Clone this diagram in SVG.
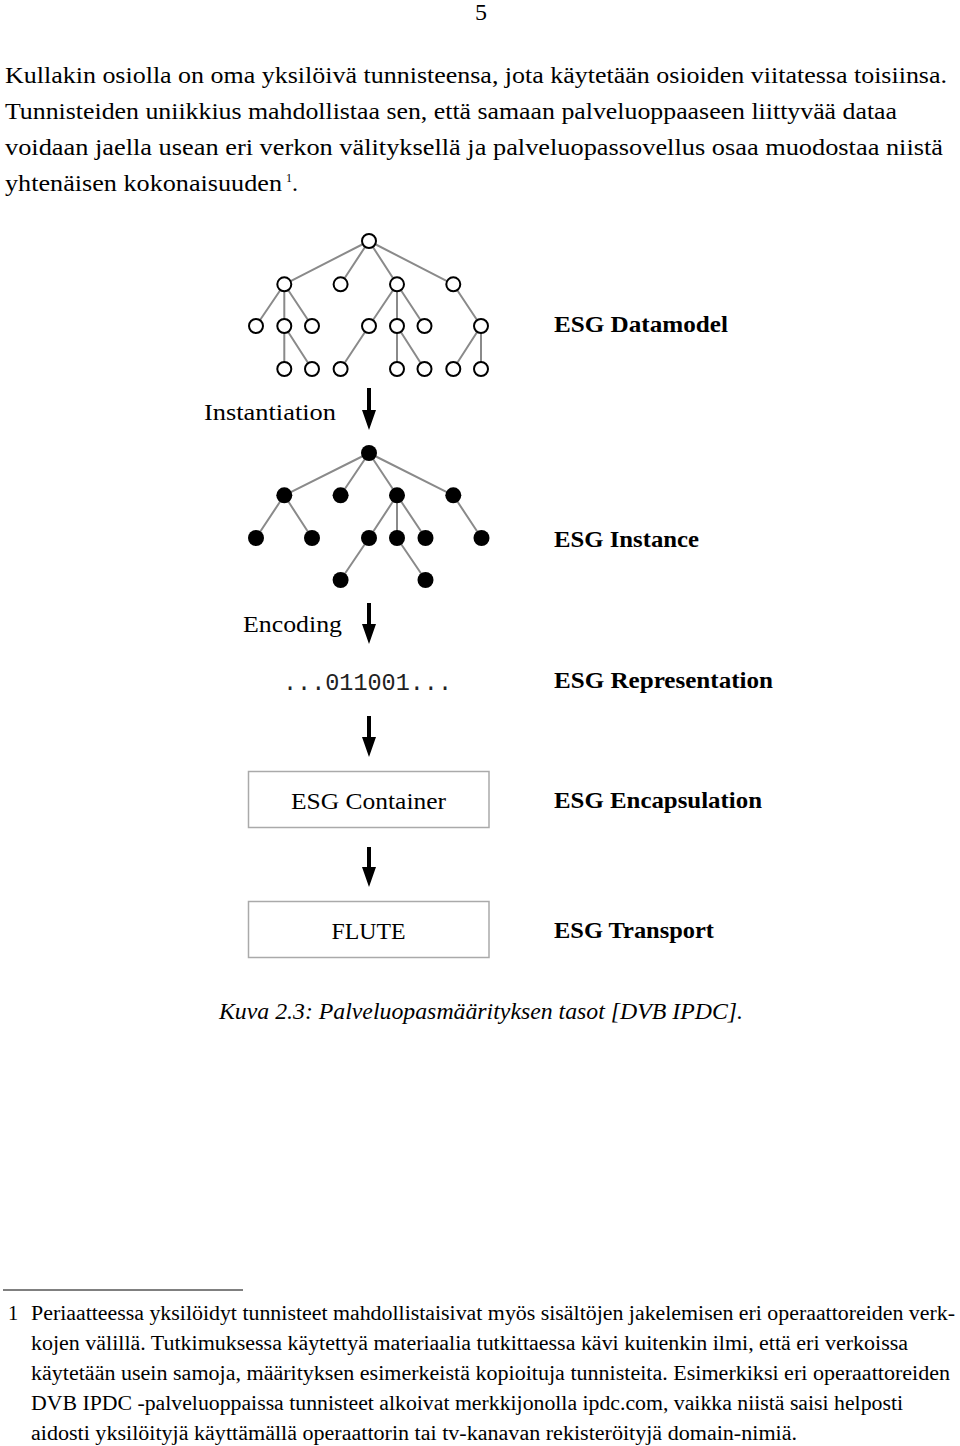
<svg xmlns="http://www.w3.org/2000/svg" width="960" height="1446" viewBox="0 0 960 1446">
<style>
.t{font-family:"Liberation Serif","DejaVu Serif",serif;font-size:24px;fill:#000}
.b{font-weight:bold;font-size:23px}
.fn{font-family:"Liberation Serif","DejaVu Serif",serif;font-size:20.5px;fill:#000}
.e{stroke:#8a8a8a;stroke-width:2;fill:none}
.o{fill:#fff;stroke:#000;stroke-width:2}
.f{fill:#000}
.box{fill:#fff;stroke:#aaa;stroke-width:1.5}
.arr{fill:#000}
</style>
<rect width="960" height="1446" fill="#fff"/>
<text class="t" x="481" y="20" text-anchor="middle">5</text>
<g id="body">
<text class="t" x="5" y="83" textLength="942" lengthAdjust="spacingAndGlyphs">Kullakin osiolla on oma yksilöivä tunnisteensa, jota käytetään osioiden viitatessa toisiinsa.</text>
<text class="t" x="5" y="119" textLength="892" lengthAdjust="spacingAndGlyphs">Tunnisteiden uniikkius mahdollistaa sen, että samaan palveluoppaaseen liittyvää dataa</text>
<text class="t" x="5" y="155" textLength="938" lengthAdjust="spacingAndGlyphs">voidaan jaella usean eri verkon välityksellä ja palveluopassovellus osaa muodostaa niistä</text>
<text class="t" x="5" y="191" textLength="277" lengthAdjust="spacingAndGlyphs">yhtenäisen kokonaisuuden</text>
<text class="t" x="286" y="182" style="font-size:12px">1</text>
<text class="t" x="292" y="191">.</text>
</g>
<g id="connectors">
<path class="e" d="M369,241L284.3,284.3M369,241L340.6,284.3M369,241L397,284.3M369,241L453.3,284.3
M284.3,284.3L256,326M284.3,284.3L284.3,326M284.3,284.3L312,326
M397,284.3L369,326M397,284.3L397,326M397,284.3L424.5,326
M453.3,284.3L481,326
M284.3,326L284.3,369M284.3,326L312,369
M369,326L340.6,369
M397,326L397,369M397,326L424.5,369
M481,326L453.3,369M481,326L481,369"/>
<path class="e" d="M369,453L284.3,495.3M369,453L340.6,495.3M369,453L397,495.3M369,453L453.3,495.3
M284.3,495.3L256,538M284.3,495.3L312,538
M397,495.3L369,538M397,495.3L397,538M397,495.3L425.5,538
M453.3,495.3L481.5,538
M369,538L340.6,580M397,538L425.5,580"/>
<path class="arr" d="M367,388H371V410H376L369,430L362,410H367Z"/>
<path class="arr" d="M367,603H371V624H376L369,644L362,624H367Z"/>
<path class="arr" d="M367,716H371V737H376L369,757L362,737H367Z"/>
<path class="arr" d="M367,847H371V867H376L369,887L362,867H367Z"/>
</g>
<g id="datamodel-tree">
<circle class="o" cx="369" cy="241" r="7"/>
<circle class="o" cx="284.3" cy="284.3" r="7"/><circle class="o" cx="340.6" cy="284.3" r="7"/><circle class="o" cx="397" cy="284.3" r="7"/><circle class="o" cx="453.3" cy="284.3" r="7"/>
<circle class="o" cx="256" cy="326" r="7"/><circle class="o" cx="284.3" cy="326" r="7"/><circle class="o" cx="312" cy="326" r="7"/><circle class="o" cx="369" cy="326" r="7"/><circle class="o" cx="397" cy="326" r="7"/><circle class="o" cx="424.5" cy="326" r="7"/><circle class="o" cx="481" cy="326" r="7"/>
<circle class="o" cx="284.3" cy="369" r="7"/><circle class="o" cx="312" cy="369" r="7"/><circle class="o" cx="340.6" cy="369" r="7"/><circle class="o" cx="397" cy="369" r="7"/><circle class="o" cx="424.5" cy="369" r="7"/><circle class="o" cx="453.3" cy="369" r="7"/><circle class="o" cx="481" cy="369" r="7"/>
</g>
<g id="instance-tree">
<circle class="f" cx="369" cy="453" r="8"/>
<circle class="f" cx="284.3" cy="495.3" r="8"/><circle class="f" cx="340.6" cy="495.3" r="8"/><circle class="f" cx="397" cy="495.3" r="8"/><circle class="f" cx="453.3" cy="495.3" r="8"/>
<circle class="f" cx="256" cy="538" r="8"/><circle class="f" cx="312" cy="538" r="8"/><circle class="f" cx="369" cy="538" r="8"/><circle class="f" cx="397" cy="538" r="8"/><circle class="f" cx="425.5" cy="538" r="8"/><circle class="f" cx="481.5" cy="538" r="8"/>
<circle class="f" cx="340.6" cy="580" r="8"/><circle class="f" cx="425.5" cy="580" r="8"/>
</g>
<g id="labels">
<text class="t b" x="554" y="332" textLength="174" lengthAdjust="spacingAndGlyphs">ESG Datamodel</text>
<text class="t" x="204" y="420" textLength="132" lengthAdjust="spacingAndGlyphs">Instantiation</text>
<text class="t b" x="554" y="547" textLength="145" lengthAdjust="spacingAndGlyphs">ESG Instance</text>
<text class="t" x="243" y="632" textLength="99" lengthAdjust="spacingAndGlyphs">Encoding</text>
<text class="t b" x="554" y="688" textLength="219" lengthAdjust="spacingAndGlyphs">ESG Representation</text>
<text class="t b" x="554" y="808" textLength="208" lengthAdjust="spacingAndGlyphs">ESG Encapsulation</text>
<text class="t b" x="554" y="938" textLength="160" lengthAdjust="spacingAndGlyphs">ESG Transport</text>
</g>
<g id="bitstream">
<text x="283" y="690" style="font-family:'Liberation Mono',monospace;font-size:23.5px;fill:#222" textLength="169">...011001...</text>
</g>
<g id="esg-container">
<rect class="box" x="248.5" y="771.5" width="240.5" height="56"/>
<text class="t" x="368.5" y="809" text-anchor="middle" textLength="155" lengthAdjust="spacingAndGlyphs">ESG Container</text>
</g>
<g id="flute">
<rect class="box" x="248.5" y="901.5" width="240.5" height="56"/>
<text class="t" x="368.5" y="939" text-anchor="middle" textLength="74" lengthAdjust="spacingAndGlyphs">FLUTE</text>
</g>
<text class="t" x="219" y="1019" style="font-style:italic" textLength="524" lengthAdjust="spacingAndGlyphs">Kuva 2.3: Palveluopasmäärityksen tasot [DVB IPDC].</text>
<g id="footnote">
<line x1="3" y1="1290" x2="243" y2="1290" stroke="#000" stroke-width="1"/>
<text class="fn" x="8" y="1320">1</text>
<text class="fn" x="31" y="1320" textLength="924" lengthAdjust="spacingAndGlyphs">Periaatteessa yksilöidyt tunnisteet mahdollistaisivat myös sisältöjen jakelemisen eri operaattoreiden verk-</text>
<text class="fn" x="31" y="1350" textLength="877" lengthAdjust="spacingAndGlyphs">kojen välillä. Tutkimuksessa käytettyä materiaalia tutkittaessa kävi kuitenkin ilmi, että eri verkoissa</text>
<text class="fn" x="31" y="1380" textLength="919" lengthAdjust="spacingAndGlyphs">käytetään usein samoja, määrityksen esimerkeistä kopioituja tunnisteita. Esimerkiksi eri operaattoreiden</text>
<text class="fn" x="31" y="1410" textLength="872" lengthAdjust="spacingAndGlyphs">DVB IPDC -palveluoppaissa tunnisteet alkoivat merkkijonolla ipdc.com, vaikka niistä saisi helposti</text>
<text class="fn" x="31" y="1440" textLength="766" lengthAdjust="spacingAndGlyphs">aidosti yksilöityjä käyttämällä operaattorin tai tv-kanavan rekisteröityjä domain-nimiä.</text>
</g>
</svg>
